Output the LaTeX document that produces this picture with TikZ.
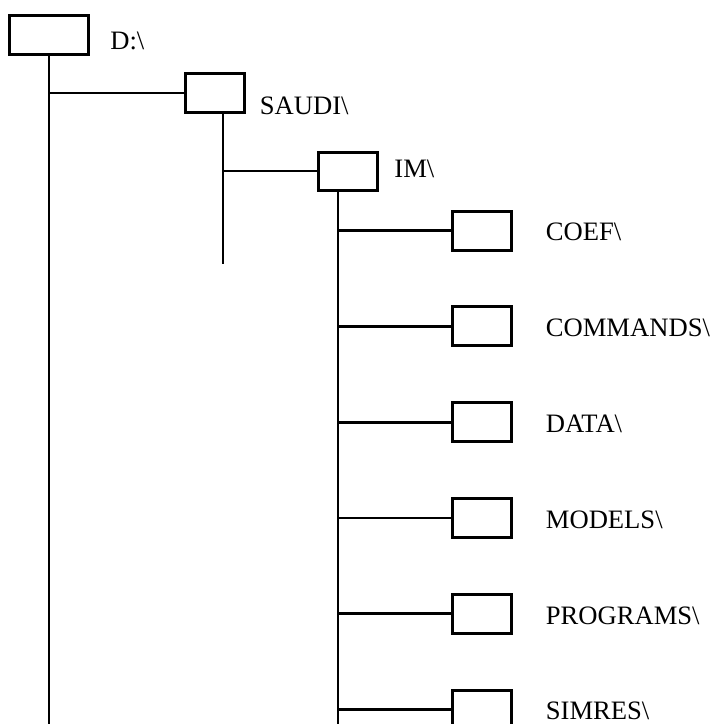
\documentclass[tikz,border=0pt]{standalone}
\usepackage{fontspec}
\setmainfont{Liberation Serif}
\usetikzlibrary{positioning}
\tikzset{
  dir/.style={draw,line width=1.5pt,minimum width=29.5pt,minimum height=19.5pt,inner sep=0pt},
  lbl/.style={anchor=west,inner sep=0pt,text height=8.8pt,text depth=0pt,font=\fontsize{13.3}{16}\selectfont},
  ln/.style={line width=1.4pt},
}

\begin{document}
\begin{tikzpicture}[x=0.5pt,y=-0.5pt]
  \useasboundingbox (0,0) rectangle (712,724);
  % folder boxes
  \node[dir,minimum width=39.5pt] (d) at (49,34.5) {};
  \node[dir] (sa) at (214.5,93) {};
  \node[dir,minimum height=19pt] (im) at (348,171) {};
  \node[dir] (coef) at (481.5,230.5) {};
  \node[dir] (cmd) at (481.5,326.3) {};
  \node[dir] (data) at (481.5,422.1) {};
  \node[dir] (mod) at (481.5,517.9) {};
  \node[dir] (prog) at (481.5,613.7) {};
  \node[dir] (sim) at (481.5,709.5) {};
  % names
  \node[lbl,right=10pt of d,yshift=-3.3pt] (dl) {D:\textbackslash};
  \node[lbl,right=7pt of sa,yshift=-6.5pt] (sal) {SAUDI\textbackslash};
  \node[lbl,right=7.5pt of im,yshift=1pt] (iml) {IM\textbackslash};
  \node[lbl,right=16.5pt of coef,yshift=-0.8pt] (coefl) {COEF\textbackslash};
  \node[lbl,right=16.5pt of cmd,yshift=-0.8pt] (cmdl) {COMMANDS\textbackslash};
  \node[lbl,right=16.5pt of data,yshift=-0.8pt] (datal) {DATA\textbackslash};
  \node[lbl,right=16.5pt of mod,yshift=-0.8pt] (modl) {MODELS\textbackslash};
  \node[lbl,right=16.5pt of prog,yshift=-0.8pt] (progl) {PROGRAMS\textbackslash};
  \node[lbl,right=16.5pt of sim,yshift=-0.8pt] (siml) {SIMRES\textbackslash};
  % tree lines
  \coordinate (dend) at (49,724);
  \coordinate (saend) at (223,264);
  \coordinate (imend) at (338,724);
  \draw[ln] (d.south) -- (dend);
  \draw[ln] (sa.west -| dend) -- (sa.west);
  \draw[ln] (sa.south -| saend) -- (saend);
  \draw[ln] (im.west -| saend) -- (im.west);
  \draw[ln] (im.south -| imend) -- (imend);
  \draw[ln] (coef.west -| imend) -- (coef.west);
  \draw[ln] (cmd.west -| imend) -- (cmd.west);
  \draw[ln] (data.west -| imend) -- (data.west);
  \draw[ln] (mod.west -| imend) -- (mod.west);
  \draw[ln] (prog.west -| imend) -- (prog.west);
  \draw[ln] (sim.west -| imend) -- (sim.west);
\end{tikzpicture}
\end{document}
